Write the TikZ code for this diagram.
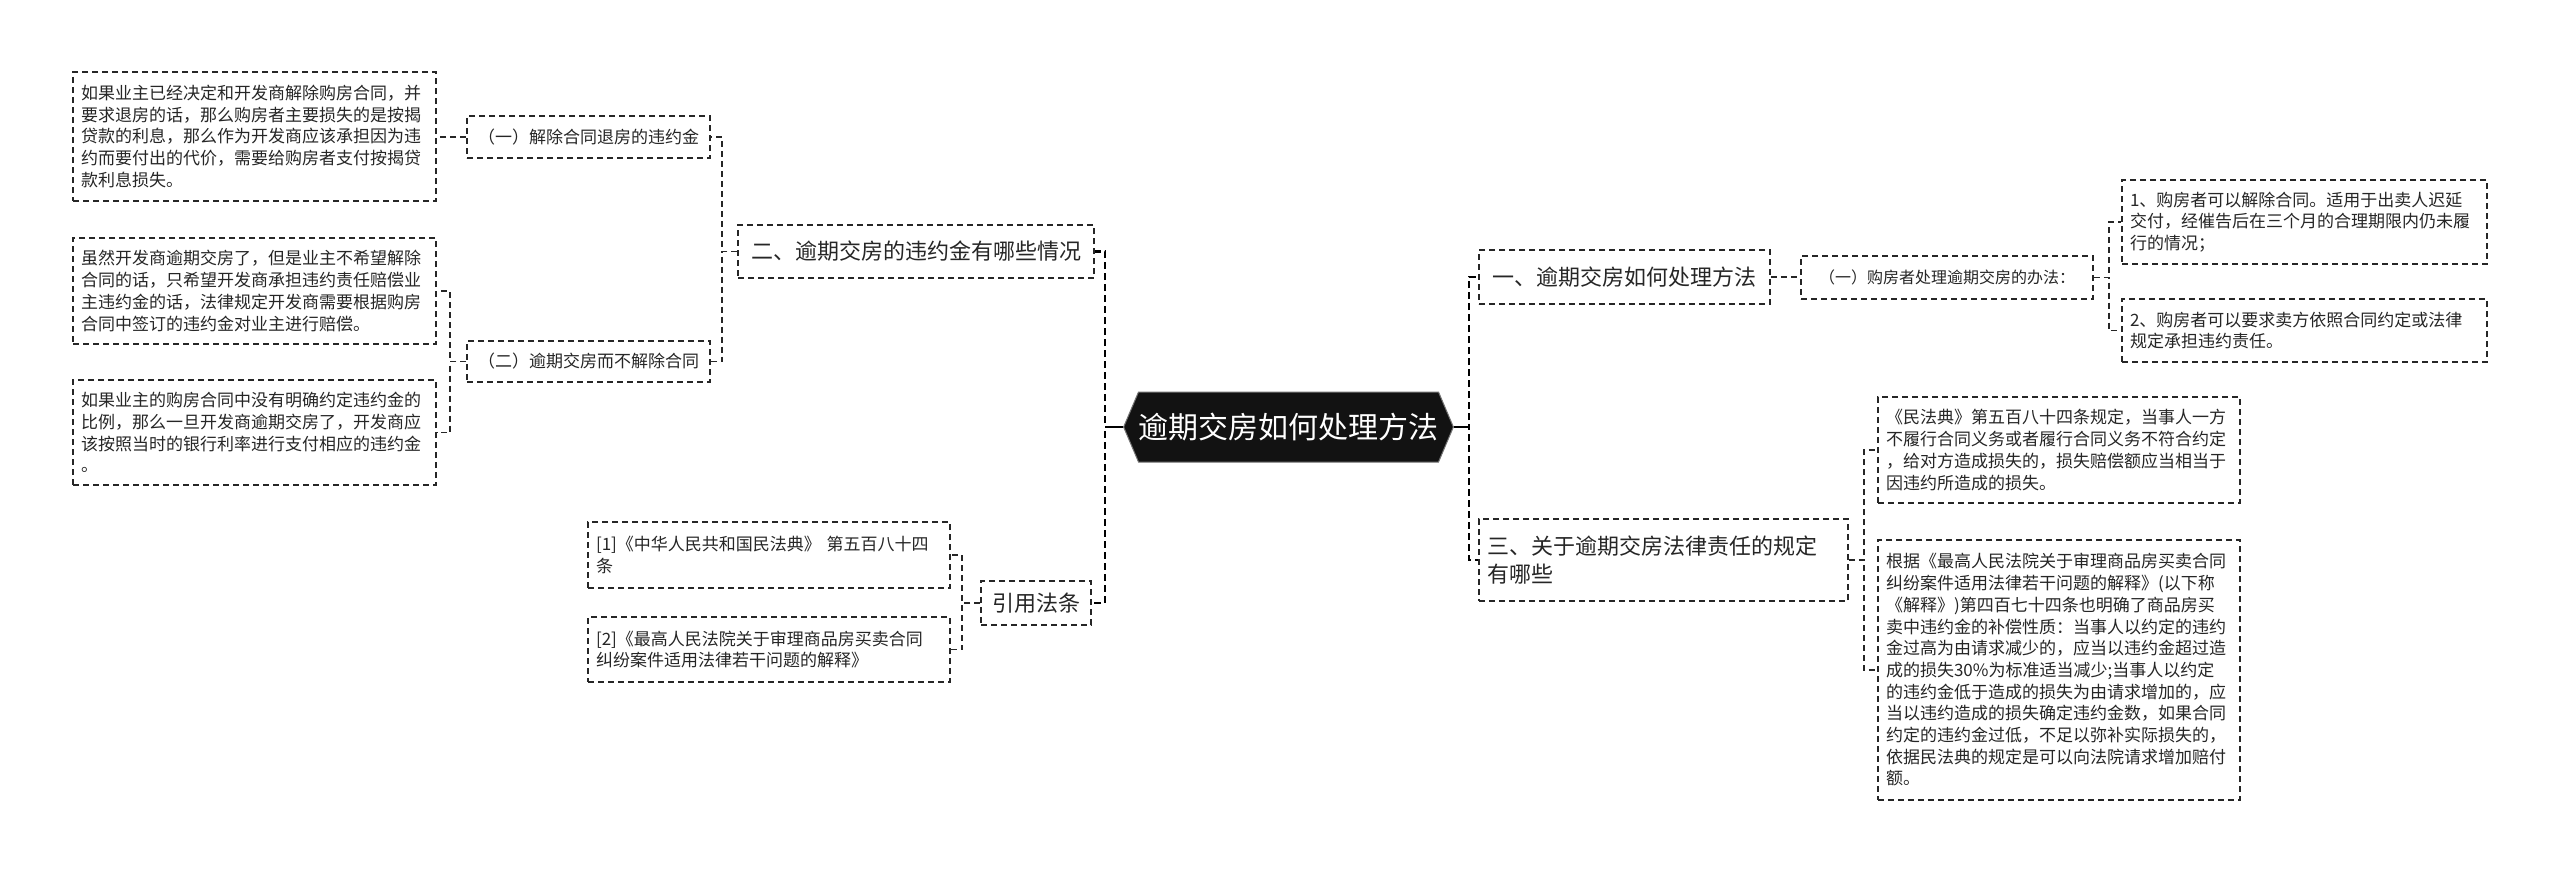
\documentclass[tikz,border=0pt]{standalone}
\usepackage{fontspec}
\setmainfont{Noto Sans CJK SC}
\usetikzlibrary{shapes.symbols}
\tikzset{
 dbox/.style={draw=black!85, line width=1.6pt, dash pattern=on 6pt off 4pt, inner xsep=8pt, inner ysep=0pt, align=left, text=black!85, anchor=center},
 txt/.style={font=\fontsize{17}{21.7}\selectfont},
 lvtwo/.style={font=\fontsize{17}{21.7}\selectfont},
 lvone/.style={font=\fontsize{22}{28}\selectfont},
 link/.style={draw=black!85, line width=1.6pt, dash pattern=on 6pt off 4pt},
 rootlink/.style={draw=black, line width=2.2pt, dash pattern=on 7pt off 4pt},
 rootstub/.style={draw=black, line width=2.4pt},
}
\begin{document}
\begin{tikzpicture}[x=1pt,y=-1pt]
\useasboundingbox (0,0) rectangle (2560,875);
\fill[white] (0,0) rectangle (2560,875);

% root
\node[signal, signal to=west and east, signal pointer angle=134, fill=black!93, draw=black!55, line width=1pt,
 minimum width=323pt, minimum height=70pt, text=white, font=\fontsize{30}{36}\selectfont, inner sep=0pt] (root) at (1288.5,427) {逾期交房如何处理方法};

% left branch
\node[dbox, lvone, minimum width=356pt, minimum height=53pt] (two) at (916,251.5) {二、逾期交房的违约金有哪些情况};
\node[dbox, lvtwo, minimum width=243pt, minimum height=42pt] (l2a) at (588.5,137) {（一）解除合同退房的违约金};
\node[dbox, lvtwo, minimum width=243pt, minimum height=41pt] (l2b) at (588.5,361.5) {（二）逾期交房而不解除合同};
\node[dbox, txt, text width=347pt, minimum height=129pt] (t1) at (254.5,136.5) {如果业主已经决定和开发商解除购房合同，并\\要求退房的话，那么购房者主要损失的是按揭\\贷款的利息，那么作为开发商应该承担因为违\\约而要付出的代价，需要给购房者支付按揭贷\\款利息损失。};
\node[dbox, txt, text width=347pt, minimum height=106pt] (t2) at (254.5,291) {虽然开发商逾期交房了，但是业主不希望解除\\合同的话，只希望开发商承担违约责任赔偿业\\主违约金的话，法律规定开发商需要根据购房\\合同中签订的违约金对业主进行赔偿。};
\node[dbox, txt, text width=347pt, minimum height=105pt] (t3) at (254.5,432.5) {如果业主的购房合同中没有明确约定违约金的\\比例，那么一旦开发商逾期交房了，开发商应\\该按照当时的银行利率进行支付相应的违约金\\。};

\node[dbox, lvone, minimum width=110pt, minimum height=44pt] (cite) at (1036,603) {引用法条};
\node[dbox, txt, text width=346pt, minimum height=66pt] (c1) at (769,555) {[1]《中华人民共和国民法典》 第五百八十四\\条};
\node[dbox, txt, text width=346pt, minimum height=65pt] (c2) at (769,649.5) {[2]《最高人民法院关于审理商品房买卖合同\\纠纷案件适用法律若干问题的解释》};

% right branch
\node[dbox, lvone, minimum width=291pt, minimum height=54pt] (one) at (1624.5,277) {一、逾期交房如何处理方法};
\node[dbox, font=\fontsize{16}{20}\selectfont, minimum width=292pt, minimum height=43pt] (p1) at (1947,277.5) {（一）购房者处理逾期交房的办法：};
\node[dbox, txt, text width=349pt, minimum height=84pt] (s1) at (2304.5,222) {1、购房者可以解除合同。适用于出卖人迟延\\交付，经催告后在三个月的合理期限内仍未履\\行的情况；};
\node[dbox, txt, text width=349pt, minimum height=63pt] (s2) at (2304.5,330.5) {2、购房者可以要求卖方依照合同约定或法律\\规定承担违约责任。};

\node[dbox, lvone, text width=353pt, minimum height=82pt] (three) at (1663.5,560) {三、关于逾期交房法律责任的规定\\有哪些};
\node[dbox, txt, text width=346pt, minimum height=106pt] (m1) at (2059,450) {《民法典》第五百八十四条规定，当事人一方\\不履行合同义务或者履行合同义务不符合约定\\，给对方造成损失的，损失赔偿额应当相当于\\因违约所造成的损失。};
\node[dbox, txt, text width=346pt, minimum height=260pt] (m2) at (2059,670) {根据《最高人民法院关于审理商品房买卖合同\\纠纷案件适用法律若干问题的解释》(以下称\\《解释》)第四百七十四条也明确了商品房买\\卖中违约金的补偿性质：当事人以约定的违约\\金过高为由请求减少的，应当以违约金超过造\\成的损失30\%为标准适当减少;当事人以约定\\的违约金低于造成的损失为由请求增加的，应\\当以违约造成的损失确定违约金数，如果合同\\约定的违约金过低，不足以弥补实际损失的，\\依据民法典的规定是可以向法院请求增加赔付\\额。};

% connectors from root
\draw[rootlink] (root.west) -- ++(-18,0) |- (two.east);
\draw[rootlink] (root.west) -- ++(-18,0) |- (cite.east);
\draw[rootstub] (root.west) -- ++(-18,0);
\draw[rootlink] (root.east) -- ++(15,0) |- (one.west);
\draw[rootlink] (root.east) -- ++(15,0) |- (three.west);
\draw[rootstub] (root.east) -- ++(15,0);

% other connectors
\draw[link] (two.west) -- ++(-15,0) |- (l2a.east);
\draw[link] (two.west) -- ++(-15,0) |- (l2b.east);
\draw[link] (l2a.west) -- (t1.east |- l2a.west);
\draw[link] (l2b.west) -- ++(-16,0) |- (t2.east);
\draw[link] (l2b.west) -- ++(-16,0) |- (t3.east);
\draw[link] (cite.west) -- ++(-18,0) |- (c1.east);
\draw[link] (cite.west) -- ++(-18,0) |- (c2.east);
\draw[link] (one.east) -- (p1.west |- one.east);
\draw[link] (p1.east) -- ++(15,0) |- (s1.west);
\draw[link] (p1.east) -- ++(15,0) |- (s2.west);
\draw[link] (three.east) -- ++(15,0) |- (m1.west);
\draw[link] (three.east) -- ++(15,0) |- (m2.west);
\end{tikzpicture}
\end{document}
